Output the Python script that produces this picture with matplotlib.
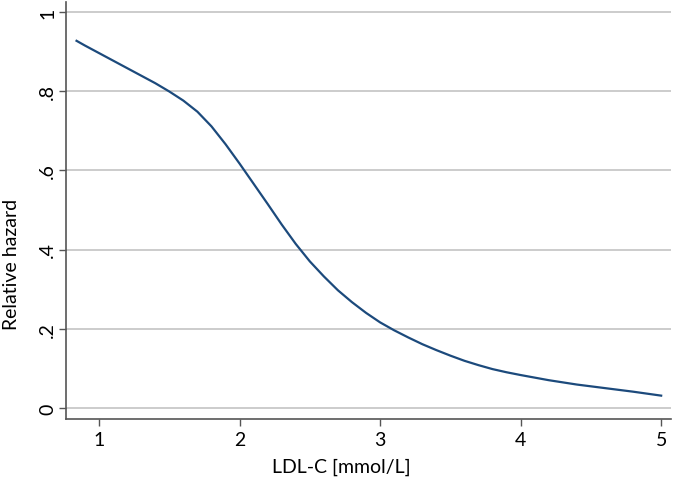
import matplotlib
matplotlib.use("Agg")
import matplotlib.pyplot as plt

ldl = [0.84, 0.9, 1.0, 1.1, 1.2, 1.3, 1.4, 1.5, 1.6, 1.7, 1.8, 1.9, 2.0, 2.1, 2.2,
       2.3, 2.4, 2.5, 2.6, 2.7, 2.8, 2.9, 3.0, 3.1, 3.2, 3.3, 3.4, 3.5, 3.6, 3.7,
       3.8, 3.9, 4.0, 4.2, 4.4, 4.6, 4.8, 5.0]
hazard = [0.927, 0.915, 0.896, 0.877, 0.858, 0.839, 0.820, 0.799, 0.776, 0.748,
          0.711, 0.666, 0.617, 0.566, 0.515, 0.463, 0.414, 0.370, 0.332, 0.297,
          0.267, 0.240, 0.216, 0.196, 0.178, 0.161, 0.146, 0.132, 0.119, 0.108,
          0.098, 0.090, 0.083, 0.070, 0.059, 0.050, 0.041, 0.031]
xticks = [1, 2, 3, 4, 5]
yticks = [0, 0.2, 0.4, 0.6, 0.8, 1.0]
ytick_labels = ["0", ".2", ".4", ".6", ".8", "1"]

plt.rcParams['font.family'] = ['Lato', 'DejaVu Sans']

fig = plt.figure(figsize=(6.75, 4.85), dpi=100)
ax = fig.add_axes([66/675, 65/485, 605/675, 417/485])

ax.plot(ldl, hazard, color='#1c4a7c', lw=1.6, solid_joinstyle='round')

ax.set_xlim(0.765, 5.07)
ax.set_ylim(-0.028, 1.025)
ax.set_xticks(xticks)
ax.set_yticks(yticks)
ax.set_yticklabels(ytick_labels)
ax.yaxis.grid(True, color='#c8c8c8', lw=1.3)
ax.set_axisbelow(True)

for s in ['top', 'right']:
    ax.spines[s].set_visible(False)
for s in ['left', 'bottom']:
    ax.spines[s].set_color('#555555')
    ax.spines[s].set_linewidth(1.2)

ax.tick_params(axis='both', colors='#555555', length=5, width=1, labelcolor='black', labelsize=14)
ax.tick_params(axis='y', pad=2)
for lab in ax.get_yticklabels():
    lab.set_rotation(90)
    lab.set_va('center')

fig.text(12/675, 1 - 264/485, 'Relative hazard', fontsize=14, rotation=90,
         ha='center', va='center')
fig.text(341/675, 1 - 467/485, 'LDL-C [mmol/L]', fontsize=14,
         ha='center', va='center')

fig.savefig('out.png', dpi=100)
